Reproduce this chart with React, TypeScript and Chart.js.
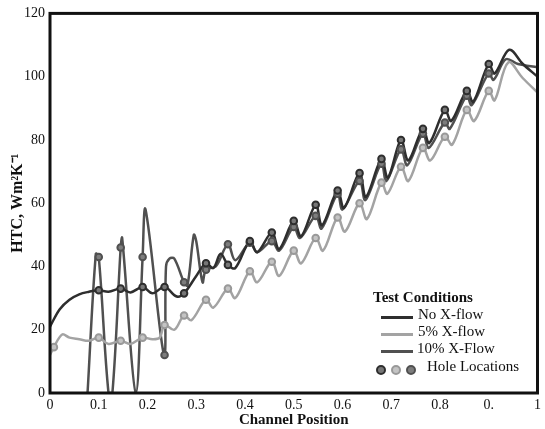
import React, { useEffect, useRef } from 'react';
import { Chart, registerables } from 'chart.js';

Chart.register(...registerables);

const xTickLabels = ['0', '0.1', '0.2', '0.3', '0.4', '0.5', '0.6', '0.7', '0.8', '0.', '1'];

const noFlowX = [0, 0.02, 0.04, 0.06, 0.08, 0.1, 0.12, 0.145, 0.165, 0.19, 0.21, 0.235, 0.26, 0.275, 0.3, 0.32, 0.335, 0.35, 0.365, 0.38, 0.41, 0.425, 0.455, 0.47, 0.5, 0.515, 0.545, 0.558, 0.59, 0.603, 0.635, 0.648, 0.68, 0.693, 0.72, 0.735, 0.765, 0.778, 0.81, 0.823, 0.855, 0.868, 0.9, 0.912, 0.942, 0.97, 1];
const noFlowY = [21, 26.5, 29.5, 31.2, 32, 32.5, 32, 33, 31.8, 33.5, 31.5, 33.5, 30.5, 31.5, 37, 41, 39.5, 44, 40.5, 39.5, 48, 44.5, 50.7, 45.5, 54.4, 49.5, 59.5, 53, 64, 58.5, 69.5, 62, 74, 68, 80, 73.5, 83.5, 79, 89.5, 86, 95.5, 92, 104, 101, 108.5, 104, 100];

const fiveX = [0, 0.008, 0.025, 0.04, 0.06, 0.08, 0.1, 0.12, 0.145, 0.165, 0.19, 0.21, 0.225, 0.235, 0.255, 0.275, 0.29, 0.32, 0.335, 0.365, 0.38, 0.41, 0.425, 0.455, 0.47, 0.5, 0.515, 0.545, 0.56, 0.59, 0.605, 0.635, 0.65, 0.68, 0.692, 0.72, 0.735, 0.765, 0.78, 0.81, 0.825, 0.855, 0.87, 0.9, 0.912, 0.94, 0.97, 1];
const fiveY = [12, 14.5, 18.5, 17.5, 17, 16.5, 17.5, 15.5, 16.5, 15.5, 17.5, 17, 17.5, 21.5, 20, 24.5, 23, 29.5, 27, 33, 30, 38.5, 35, 41.5, 37, 45, 41, 49, 45, 55.5, 51, 60, 55, 66.5, 63, 71.5, 67, 77.5, 73.5, 81, 78.5, 89.5, 86, 95.5, 92.5, 104.5, 99.5, 95];

const tenX = [0.077, 0.094, 0.1, 0.12, 0.128, 0.145, 0.148, 0.176, 0.19, 0.196, 0.234, 0.238, 0.245, 0.255, 0.275, 0.282, 0.295, 0.3, 0.313, 0.32, 0.34, 0.365, 0.38, 0.41, 0.425, 0.455, 0.47, 0.5, 0.513, 0.545, 0.557, 0.59, 0.6, 0.635, 0.647, 0.68, 0.69, 0.72, 0.733, 0.765, 0.777, 0.81, 0.82, 0.855, 0.865, 0.9, 0.91, 0.935, 0.96, 1];
const tenY = [0, 44, 43, 0, 0, 46, 49, 0, 43, 58, 12, 40, 42.5, 42.5, 35, 34, 50, 48, 35, 39, 40, 47, 42, 47.5, 44.5, 48, 45, 52.5, 49, 56, 52, 63, 58, 67, 61, 72.5, 67, 77, 72, 82, 77.5, 85.5, 83.5, 94, 91, 101, 99, 105.5, 104, 103];

const holeX = [0.1, 0.145, 0.19, 0.235, 0.275, 0.32, 0.365, 0.41, 0.455, 0.5, 0.545, 0.59, 0.635, 0.68, 0.72, 0.765, 0.81, 0.855, 0.9];
const holeNoFlowY = [32.5, 33, 33.5, 33.5, 31.5, 41, 40.5, 48, 50.7, 54.4, 59.5, 64, 69.5, 74, 80, 83.5, 89.5, 95.5, 104];
const holeTenY = [43, 46, 43, 12, 35, 39, 47, 47.5, 48, 52.5, 56, 63, 67, 72.5, 77, 82, 85.5, 94, 101];
const holeFiveX = [0.008, 0.1, 0.145, 0.19, 0.235, 0.275, 0.32, 0.365, 0.41, 0.455, 0.5, 0.545, 0.59, 0.635, 0.68, 0.72, 0.765, 0.81, 0.855, 0.9];
const holeFiveY = [14.5, 17.5, 16.5, 17.5, 21.5, 24.5, 29.5, 33, 38.5, 41.5, 45, 49, 55.5, 60, 66.5, 71.5, 77.5, 81, 89.5, 95.5];

const DARK = '#2e2e2e';
const MID = '#505050';
const LIGHT = '#a3a3a3';
const FONT = "'Liberation Serif', 'Times New Roman', serif";

const pts = (xs: number[], ys: number[]) => xs.map((x, i) => ({ x, y: ys[i] }));

const framePlugin = {
  id: 'frame',
  afterDatasetsDraw(chart: any) {
    const { ctx, chartArea } = chart;
    const { left, top, right, bottom } = chartArea;
    ctx.save();
    ctx.strokeStyle = '#111';
    ctx.lineWidth = 3;
    ctx.strokeRect(left, top, right - left, bottom - top);
    ctx.restore();
  },
};

export default function App() {
  const ref = useRef<HTMLCanvasElement | null>(null);

  useEffect(() => {
    document.body.style.margin = '0';
    const lineDs = (label: string, xs: number[], ys: number[], color: string) => ({
      type: 'line' as const,
      label,
      data: pts(xs, ys),
      borderColor: color,
      borderWidth: 2.5,
      pointRadius: 0,
      fill: false,
      tension: 0.35,
      order: 2,
    });
    const holeDs = (xs: number[], ys: number[], color: string, fillC: string) => ({
      type: 'scatter' as const,
      label: 'holes',
      data: pts(xs, ys),
      showLine: false,
      borderColor: color,
      backgroundColor: fillC,
      pointRadius: 3.3,
      pointBorderWidth: 2,
      order: 1,
    });
    const chart = new Chart(ref.current!, {
      type: 'line',
      data: {
        datasets: [
          lineDs('No X-flow', noFlowX, noFlowY, DARK),
          lineDs('5% X-flow', fiveX, fiveY, LIGHT),
          lineDs('10% X-Flow', tenX, tenY, MID),
          holeDs(holeFiveX, holeFiveY, '#999', '#c4c4c4'),
          holeDs(holeX, holeNoFlowY, DARK, '#777'),
          holeDs(holeX, holeTenY, MID, '#7d7d7d'),
        ] as any,
      },
      options: {
        animation: false,
        responsive: true,
        maintainAspectRatio: false,
        layout: { padding: { left: 8, top: 12, right: 4, bottom: 0 } },
        plugins: { legend: { display: false }, tooltip: { enabled: false } },
        scales: {
          x: {
            type: 'linear',
            min: 0,
            max: 1,
            grid: { display: false, drawTicks: false },
            border: { display: false },
            ticks: {
              stepSize: 0.1,
              padding: 4,
              color: '#111',
              font: { family: FONT, size: 14 },
              maxRotation: 0,
              autoSkip: false,
              callback: (v: any) => xTickLabels[Math.round(Number(v) * 10)] ?? '',
            },
            title: {
              display: true,
              text: 'Channel Position',
              color: '#111',
              font: { family: FONT, size: 15, weight: 'bold', lineHeight: 1.2 },
              padding: { top: 0, bottom: 0 },
            },
            afterFit: (s: any) => {
              s.height = 36;
            },
          },
          y: {
            min: 0,
            max: 120,
            grid: { display: false, drawTicks: false },
            border: { display: false },
            ticks: {
              stepSize: 20,
              padding: 5,
              color: '#111',
              font: { family: FONT, size: 14 },
            },
            title: {
              display: true,
              text: 'HTC, Wm²K⁻¹',
              color: '#111',
              font: { family: FONT, size: 16, weight: 'bold', lineHeight: 1.2 },
              padding: { top: 0, bottom: 0 },
            },
            afterFit: (s: any) => {
              s.width = 42;
            },
          },
        },
      } as any,
      plugins: [framePlugin],
    });
    return () => chart.destroy();
  }, []);

  const txt = (text: string, left: number, baseline: number, bold = false) => (
    <span
      style={{
        position: 'absolute',
        left,
        top: baseline - 12.6,
        fontFamily: FONT,
        fontSize: 15,
        lineHeight: '15px',
        fontWeight: bold ? 'bold' : 'normal',
        color: '#111',
        whiteSpace: 'nowrap',
      }}
    >
      {text}
    </span>
  );
  const sample = (color: string, cy: number) => (
    <div style={{ position: 'absolute', left: 381, top: cy - 1.5, width: 32, height: 3, background: color }} />
  );
  const ring = (cx: number, cy: number, color: string, fillC: string) => (
    <div
      style={{
        position: 'absolute',
        left: cx - 5,
        top: cy - 5,
        width: 6,
        height: 6,
        borderRadius: '50%',
        border: `2px solid ${color}`,
        background: fillC,
      }}
    />
  );

  return (
    <div style={{ position: 'absolute', left: 0, top: 0, width: 545, height: 429, background: '#fff' }}>
      <canvas ref={ref} />
      {txt('Test Conditions', 373, 303, true)}
      {sample(DARK, 317)}
      {txt('No X-flow', 418, 320)}
      {sample(LIGHT, 334)}
      {txt('5% X-flow', 418, 337)}
      {sample(MID, 351)}
      {txt('10% X-Flow', 417, 354)}
      {ring(380.5, 369.5, DARK, '#777')}
      {ring(395.5, 369.5, '#999', '#c4c4c4')}
      {ring(410.5, 369.5, MID, '#7d7d7d')}
      {txt('Hole Locations', 427, 372)}
    </div>
  );
}
